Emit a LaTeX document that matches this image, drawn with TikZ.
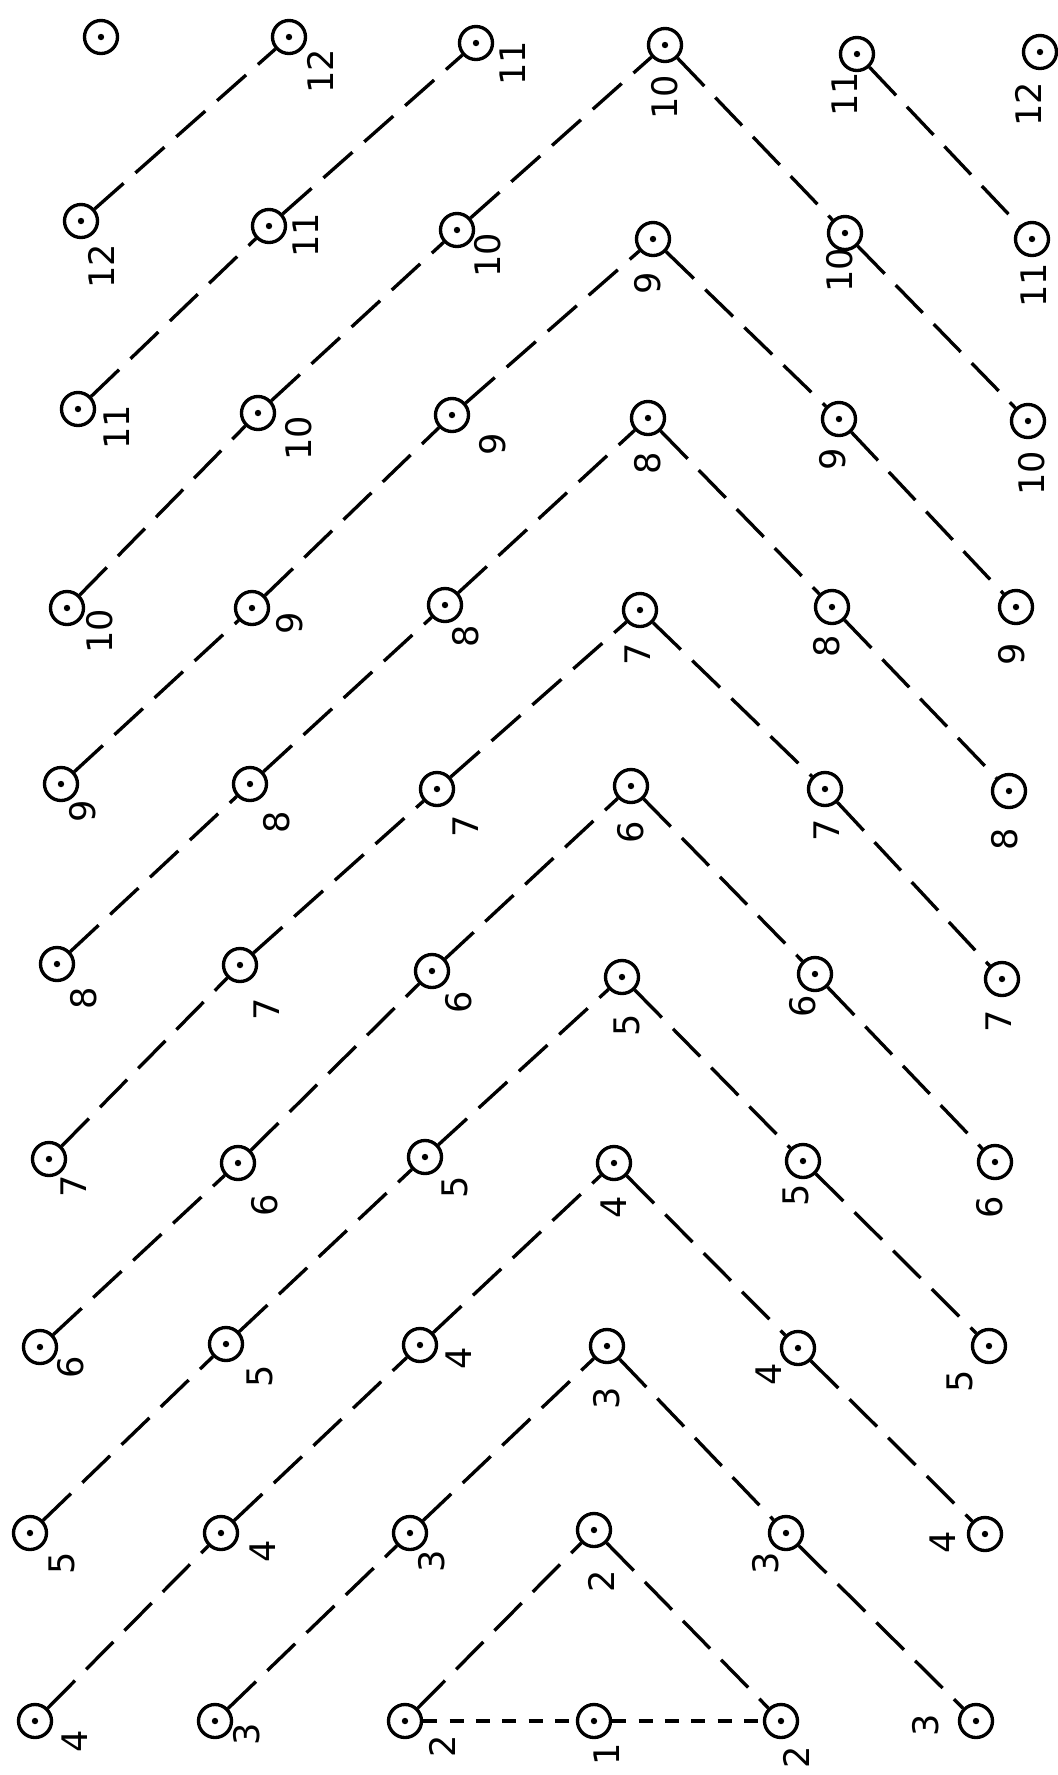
\documentclass[tikz,border=0pt]{standalone}
\usepackage{fontspec}
\setsansfont{DejaVu Sans}
\newcommand\elem[6]{%
  \node[elem] (#1) at (#2,#3) {};
  \node[lab] (#1l) at ([shift={(#5,#6)}]#2,#3) {#4};}
\begin{document}
\begin{tikzpicture}[x=0.01cm,y=-0.01cm,
  elem/.style={circle,draw,line width=0.95pt,minimum size=0.33cm,inner sep=0pt,
    path picture={\fill (path picture bounding box.center) circle (0.032cm);}},
  lab/.style={rotate=90,font=\sffamily\fontsize{10}{10}\selectfont,inner sep=0pt},
  conn/.style={line width=0.95pt,dash pattern=on 11pt off 4.5pt},
  hconn/.style={line width=0.95pt,dash pattern=on 4pt off 3.5pt}]
\fill[white] (0,0) rectangle (1058,1775);
\useasboundingbox (0,0) rectangle (1058,1775);
% row a
\node[elem] (a0) at (101,37) {};
\elem{a1}{289}{37}{12}{31}{34}
\elem{a2}{476}{43}{11}{37}{20}
\elem{a3}{665}{45}{10}{0}{52}
\elem{a4}{857}{54}{11}{-12}{40}
\elem{a5}{1040}{52}{12}{-12}{52}
% row b
\elem{b0}{81}{221}{12}{20}{45}
\elem{b1}{269}{226}{11}{37}{9}
\elem{b2}{457}{230}{10}{31}{25}
\elem{b3}{653}{239}{9}{-5}{44}
\elem{b4}{845}{233}{10}{-5}{37}
\elem{b5}{1032}{239}{11}{2}{46}
% row c
\elem{c0}{78}{409}{11}{39}{18}
\elem{c1}{258}{413}{10}{41}{25}
\elem{c2}{452}{415}{9}{41}{29}
\elem{c3}{648}{418}{8}{0}{45}
\elem{c4}{839}{419}{9}{-6}{40}
\elem{c5}{1028}{421}{10}{4}{52}
% row d
\elem{d0}{67}{608}{10}{33}{23}
\elem{d1}{252}{608}{9}{38}{15}
\elem{d2}{445}{605}{8}{21}{31}
\elem{d3}{640}{610}{7}{-2}{44}
\elem{d4}{832}{607}{8}{-5}{39}
\elem{d5}{1016}{607}{9}{-4}{47}
% row e
\elem{e0}{61}{784}{9}{22}{27}
\elem{e1}{250}{784}{8}{27}{38}
\elem{e2}{437}{789}{7}{29}{37}
\elem{e3}{631}{786}{6}{0}{46}
\elem{e4}{825}{789}{7}{2}{41}
\elem{e5}{1009}{791}{8}{-4}{48}
% row f
\elem{f0}{57}{964}{8}{27}{34}
\elem{f1}{240}{965}{7}{27}{44}
\elem{f2}{432}{971}{6}{27}{31}
\elem{f3}{622}{977}{5}{5}{48}
\elem{f4}{815}{974}{6}{-12}{32}
\elem{f5}{1002}{979}{7}{-3}{42}
% row g
\elem{g0}{49}{1159}{7}{25}{27}
\elem{g1}{238}{1163}{6}{27}{42}
\elem{g2}{425}{1157}{5}{30}{30}
\elem{g3}{614}{1163}{4}{0}{44}
\elem{g4}{803}{1161}{5}{-7}{34}
\elem{g5}{995}{1162}{6}{-5}{45}
% row h
\elem{h0}{40}{1347}{6}{31}{20}
\elem{h1}{226}{1344}{5}{34}{32}
\elem{h2}{420}{1345}{4}{39}{13}
\elem{h3}{607}{1346}{3}{0}{52}
\elem{h4}{798}{1348}{4}{-29}{26}
\elem{h5}{989}{1346}{5}{-29}{35}
% row i
\elem{i0}{30}{1533}{5}{32}{30}
\elem{i1}{221}{1533}{4}{42}{18}
\elem{i2}{410}{1533}{3}{22}{28}
\elem{i3}{594}{1530}{2}{7}{51}
\elem{i4}{786}{1533}{3}{-20}{30}
\elem{i5}{985}{1534}{4}{-42}{8}
% row j
\elem{j0}{35}{1721}{4}{40}{20}
\elem{j1}{215}{1721}{3}{32}{13}
\elem{j2}{405}{1721}{2}{37}{25}
\elem{j3}{594}{1721}{1}{13}{33}
\elem{j4}{781}{1721}{2}{15}{36}
\elem{j5}{976}{1721}{3}{-50}{4}
% connectors, left half (rising)
\foreach \r/\p in {b/a,c/b,d/c,e/d,f/e,g/f,h/g,i/h,j/i}{
  \foreach \c/\d in {0/1,1/2,2/3}{
    \draw[conn] (\r\c) -- (\p\d);}}
% connectors, right half (falling)
\foreach \r/\n in {a/b,b/c,c/d,d/e,e/f,f/g,g/h,h/i,i/j}{
  \foreach \c/\d in {3/4,4/5}{
    \draw[conn] (\r\c) -- (\n\d);}}
% base line
\draw[hconn] (j2) -- (j3);
\draw[hconn] (j3) -- (j4);
\end{tikzpicture}
\end{document}
